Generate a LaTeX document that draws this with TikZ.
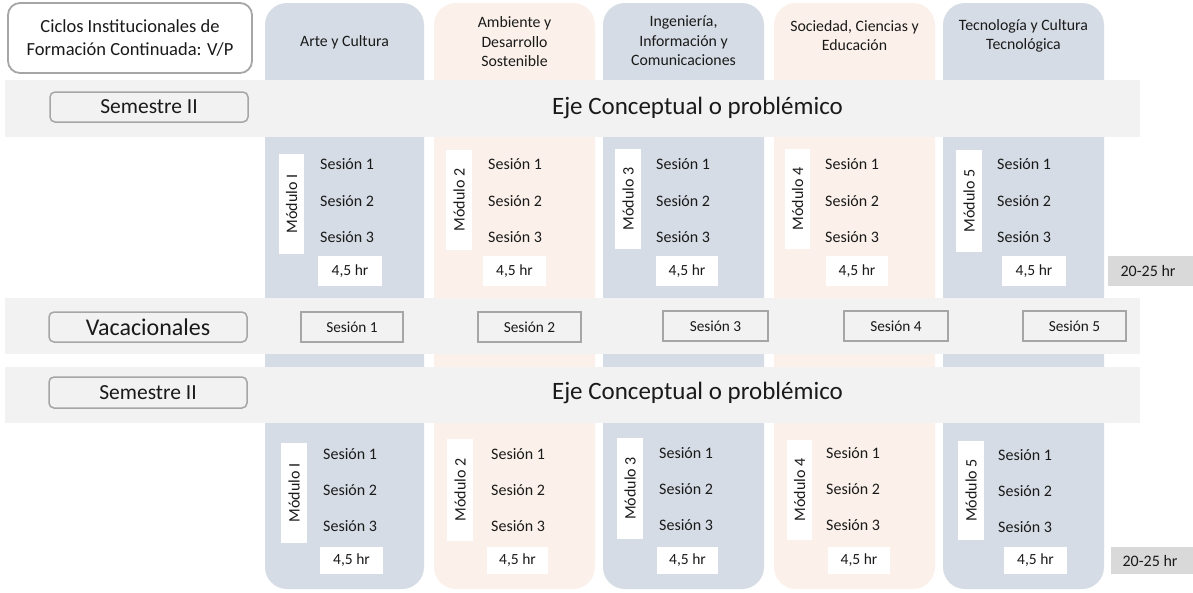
\documentclass[tikz,border=0pt]{standalone}
\usepackage{fontspec}
\setmainfont{Carlito}
\definecolor{colblue}{HTML}{D6DCE5}
\definecolor{colpeach}{HTML}{FBF1EA}
\definecolor{bandgray}{HTML}{F2F2F2}
\definecolor{boxborder}{HTML}{A6A6A6}
\definecolor{totgray}{HTML}{D9D9D9}
\definecolor{txt}{HTML}{1A1A1A}
\begin{document}
\begin{tikzpicture}[x=1pt,y=-1pt,
  every node/.style={text=txt, inner sep=0pt},
  column/.style={rounded corners=22pt},
  band/.style={fill=bandgray},
  rowlabel/.style={draw=boxborder, line width=1.5pt, fill=bandgray, rounded corners=5pt},
  vacbox/.style={draw=boxborder, line width=1.8pt, fill=bandgray},
  modbox/.style={fill=white},
  hrbox/.style={fill=white},
  totbox/.style={fill=totgray},
  hdr/.style={align=center, font=\fontsize{15.8}{19.5}\selectfont},
  ses/.style={anchor=west, font=\fontsize{16}{19}\selectfont},
  small/.style={font=\fontsize{15.5}{18}\selectfont},
  vsmall/.style={font=\fontsize{15.3}{17}\selectfont},
  modtxt/.style={rotate=90, font=\fontsize{16}{19}\selectfont},
  eje/.style={font=\fontsize{25}{30}\selectfont},
]
\useasboundingbox (0,0) rectangle (1193,592);
\fill[white] (0,0) rectangle (1193,592);

% columns
\fill[colblue, column]  (265,3) rectangle (424,589);
\fill[colpeach, column] (434,3) rectangle (595,589);
\fill[colblue, column]  (603,3) rectangle (764,589);
\fill[colpeach, column] (774,3) rectangle (935,589);
\fill[colblue, column]  (943,3) rectangle (1104,589);

% top-left title box
\draw[draw=boxborder, line width=1.8pt, fill=white, rounded corners=12pt] (8,3) rectangle (252,73);
\node[align=center, font=\fontsize{18.5}{23}\selectfont] (title) at (130,38) {Ciclos Institucionales de\\Formación Continuada: V/P};

% column headers
\node[hdr] (h1) at (344.5,42) {Arte y Cultura};
\node[hdr] (h2) at (514.5,42) {Ambiente y\\Desarrollo\\Sostenible};
\node[hdr] (h3) at (683.5,41) {Ingeniería,\\Información y\\Comunicaciones};
\node[hdr] (h4) at (854.5,35.5) {Sociedad, Ciencias y\\Educación};
\node[hdr] (h5) at (1023.5,36) {Tecnología y Cultura\\Tecnológica};

% bands
\fill[band] (5,80) rectangle (1140,137);
\fill[band] (5,298) rectangle (1140,354);
\fill[band] (5,367) rectangle (1140,423);

% row labels
\draw[rowlabel] (50,92) rectangle (248,122);
\node[font=\fontsize{21.5}{25}\selectfont] (sem1) at (149,107) {Semestre II};
\draw[rowlabel] (49,312) rectangle (247,342);
\node[font=\fontsize{24}{28}\selectfont] (vac) at (148,327) {Vacacionales};
\draw[rowlabel] (49,377) rectangle (247,408);
\node[font=\fontsize{21.5}{25}\selectfont] (sem2) at (148,392.5) {Semestre II};

\node[eje] (eje1) at (697.5,108) {Eje Conceptual o problémico};
\node[eje] (eje2) at (697.5,393) {Eje Conceptual o problémico};

% vacation sessions
\draw[vacbox] (301,312) rectangle (403,342);
\node[vsmall] (v1) at (352,327) {Sesión 1};
\draw[vacbox] (478,312) rectangle (581,342);
\node[vsmall] (v2) at (529.5,327) {Sesión 2};
\draw[vacbox] (663,311) rectangle (768,341);
\node[vsmall] (v3) at (715.5,326) {Sesión 3};
\draw[vacbox] (844,311) rectangle (948,341);
\node[vsmall] (v4) at (896,326) {Sesión 4};
\draw[vacbox] (1023,311) rectangle (1126,341);
\node[vsmall] (v5) at (1074.5,326) {Sesión 5};

% ---------- row 1 modules ----------
\foreach \i/\mxa/\mxb/\mya/\myb/\sx/\hxa/\hxb/\lab in {
  1/279/304/154/254/320/318/382/Módulo I,
  2/446/472/150/250/488/483/546/Módulo 2,
  3/615/641/149/249/656/656/718/Módulo 3,
  4/785/810/149/249/825/826/888/Módulo 4,
  5/956/982/150/252/997/1002/1066/Módulo 5}{
  \fill[modbox] (\mxa,\mya) rectangle (\mxb,\myb);
  \node[modtxt] (ma\i) at ({(\mxa+\mxb)/2},{(\mya+\myb)/2}) {\lab};
  \node[ses] (sa\i x1) at (\sx,164) {Sesión 1};
  \node[ses] (sa\i x2) at (\sx,201) {Sesión 2};
  \node[ses] (sa\i x3) at (\sx,237) {Sesión 3};
  \fill[hrbox] (\hxa,256) rectangle (\hxb,286);
  \node[small] (ha\i) at ({(\hxa+\hxb)/2},271) {4,5 hr};
}
\fill[totbox] (1108,256) rectangle (1193,286);
\node[font=\fontsize{16}{19}\selectfont] (ta) at (1148,271) {20-25 hr};

% ---------- row 2 modules ----------
\foreach \i/\mxa/\mxb/\mya/\myb/\sx/\sy/\hxa/\hxb/\lab in {
  1/281/307/443/543/323/454/320/383/Módulo I,
  2/447/473/439/541/491/454/487/548/Módulo 2,
  3/617/643/438/539/659/453/657/718/Módulo 3,
  4/787/812/440/540/826/453/828/890/Módulo 4,
  5/958/984/441/540/998/455/1004/1067/Módulo 5}{
  \fill[modbox] (\mxa,\mya) rectangle (\mxb,\myb);
  \node[modtxt] (mb\i) at ({(\mxa+\mxb)/2},{(\mya+\myb)/2}) {\lab};
  \node[ses] (sb\i x1) at (\sx,\sy) {Sesión 1};
  \node[ses] (sb\i x2) at (\sx,\sy+36) {Sesión 2};
  \node[ses] (sb\i x3) at (\sx,\sy+72) {Sesión 3};
  \fill[hrbox] (\hxa,547) rectangle (\hxb,574);
  \node[small] (hb\i) at ({(\hxa+\hxb)/2},560.5) {4,5 hr};
}
\fill[totbox] (1111,547) rectangle (1193,574);
\node[font=\fontsize{16}{19}\selectfont] (tb) at (1150,560.5) {20-25 hr};
\end{tikzpicture}
\end{document}
